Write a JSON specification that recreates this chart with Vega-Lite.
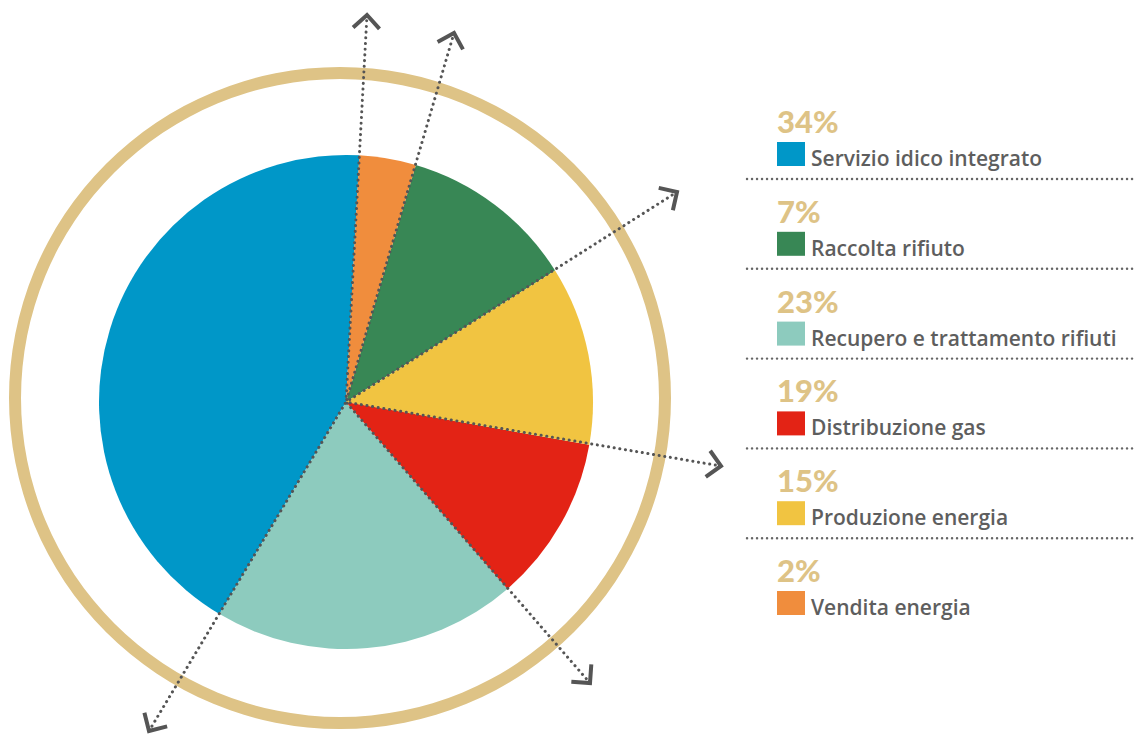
{
  "$schema": "https://vega.github.io/schema/vega-lite/v6.json",
  "background": "white",
  "padding": 0,
  "autosize": {"type": "pad"},
  "spacing": 0,
  "config": {"view": {"stroke": null}, "font": "Lato"},
  "datasets": {
    "sectors": [
      {"category": "Servizio idico integrato", "pct": "34%", "share": 42.3, "slice": 6, "rank": 1},
      {"category": "Raccolta rifiuto", "pct": "7%", "share": 11.5, "slice": 2, "rank": 2},
      {"category": "Recupero e trattamento rifiuti", "pct": "23%", "share": 19.9, "slice": 5, "rank": 3},
      {"category": "Distribuzione gas", "pct": "19%", "share": 10.9, "slice": 4, "rank": 4},
      {"category": "Produzione energia", "pct": "15%", "share": 11.7, "slice": 3, "rank": 5},
      {"category": "Vendita energia", "pct": "2%", "share": 3.7, "slice": 1, "rank": 6}
    ],
    "arrows": [
      {"deg": 3.1, "x": 367, "y": 15},
      {"deg": 16.3, "x": 454, "y": 33},
      {"deg": 57.7, "x": 677, "y": 192},
      {"deg": 99.7, "x": 721, "y": 466},
      {"deg": 139.0, "x": 590, "y": 683},
      {"deg": 210.8, "x": 149, "y": 731}
    ]
  },
  "hconcat": [
    {
      "width": 745,
      "height": 738,
      "layer": [
        {
          "data": {"values": [{"ring": "outer"}]},
          "mark": {"type": "arc", "innerRadius": 319, "outerRadius": 331, "theta": 0, "theta2": 6.2832, "color": "#DEC386"},
          "encoding": {
            "x": {"datum": 340, "type": "quantitative", "scale": {"domain": [0, 745], "nice": false, "zero": false}, "axis": null},
            "y": {"datum": 398, "type": "quantitative", "scale": {"domain": [0, 738], "nice": false, "zero": false, "reverse": true}, "axis": null}
          }
        },
        {
          "data": {"name": "sectors"},
          "mark": {"type": "arc", "outerRadius": 247},
          "encoding": {
            "x": {"datum": 346, "type": "quantitative"},
            "y": {"datum": 402, "type": "quantitative"},
            "theta": {"field": "share", "type": "quantitative", "stack": true, "scale": {"range": [0.0541, 6.3373]}},
            "order": {"field": "slice", "type": "quantitative", "sort": "ascending"},
            "color": {
              "field": "category", "type": "nominal", "legend": null,
              "scale": {
                "domain": ["Servizio idico integrato", "Raccolta rifiuto", "Recupero e trattamento rifiuti", "Distribuzione gas", "Produzione energia", "Vendita energia"],
                "range": ["#0097C8", "#388755", "#8DCBBE", "#E32315", "#F1C441", "#F08D3D"]
              }
            }
          }
        },
        {
          "data": {"name": "arrows"},
          "mark": {"type": "rule", "color": "#555555", "strokeWidth": 3, "strokeCap": "round", "strokeDash": [0.1, 5.6]},
          "encoding": {
            "x": {"field": "x", "type": "quantitative"},
            "y": {"field": "y", "type": "quantitative"},
            "x2": {"datum": 346},
            "y2": {"datum": 402}
          }
        },
        {
          "data": {"name": "arrows"},
          "mark": {"type": "point", "shape": "M-1,-1L0,0L-1,1", "filled": false, "stroke": "#555555", "strokeWidth": 4, "size": 700, "opacity": 1},
          "encoding": {
            "x": {"field": "x", "type": "quantitative"},
            "y": {"field": "y", "type": "quantitative"},
            "angle": {"field": "deg", "type": "quantitative", "scale": {"domain": [0, 360], "range": [-90, 270]}}
          }
        }
      ]
    },
    {
      "width": 390,
      "height": 738,
      "data": {"name": "sectors"},
      "encoding": {
        "y": {"field": "category", "type": "nominal", "sort": {"field": "rank", "order": "ascending"}, "scale": {"type": "point", "range": [154, 603], "padding": 0}, "axis": null}
      },
      "layer": [
        {
          "transform": [{"filter": "datum.rank < 6"}],
          "mark": {"type": "rule", "color": "#666666", "strokeWidth": 2.4, "strokeCap": "round", "strokeDash": [0.1, 4.9], "yOffset": 25},
          "encoding": {
            "x": {"datum": 0, "type": "quantitative", "scale": {"domain": [0, 390], "nice": false, "zero": false}, "axis": null},
            "x2": {"datum": 390}
          }
        },
        {
          "mark": {"type": "point", "shape": "M-1,-0.857H1V0.857H-1Z", "filled": true, "size": 784, "opacity": 1},
          "encoding": {
            "x": {"datum": 44, "type": "quantitative"},
            "color": {
              "field": "category", "type": "nominal", "legend": null,
              "scale": {
                "domain": ["Servizio idico integrato", "Raccolta rifiuto", "Recupero e trattamento rifiuti", "Distribuzione gas", "Produzione energia", "Vendita energia"],
                "range": ["#0097C8", "#388755", "#8DCBBE", "#E32315", "#F1C441", "#F08D3D"]
              }
            }
          }
        },
        {
          "mark": {"type": "text", "align": "left", "baseline": "alphabetic", "dy": -21, "fontSize": 31, "fontWeight": 900, "color": "#DEC386"},
          "encoding": {
            "x": {"datum": 30, "type": "quantitative"},
            "text": {"field": "pct"}
          }
        },
        {
          "mark": {"type": "text", "align": "left", "baseline": "alphabetic", "dy": 12, "font": "Open Sans", "fontSize": 21, "fontWeight": 600, "color": "#5E5E5E"},
          "encoding": {
            "x": {"datum": 64, "type": "quantitative"},
            "text": {"field": "category"}
          }
        }
      ]
    }
  ]
}
